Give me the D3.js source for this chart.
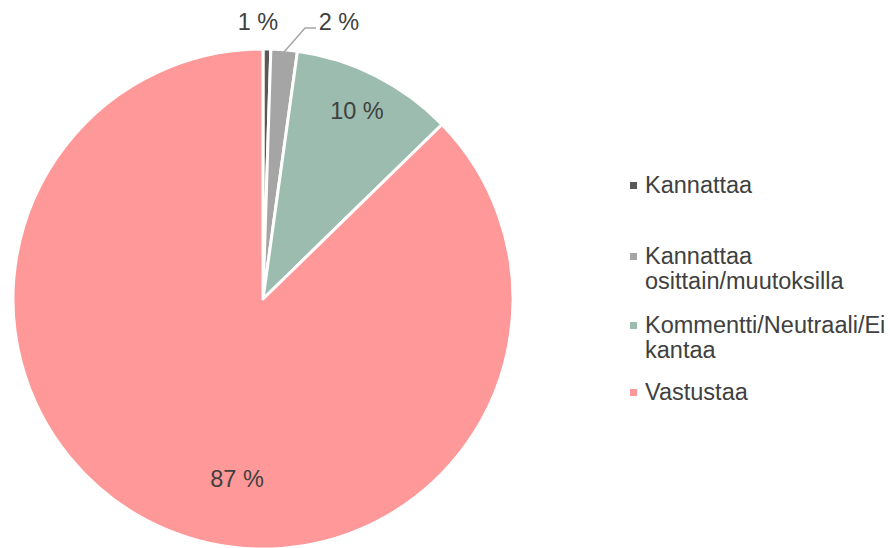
<!DOCTYPE html>
<html>
<head>
<meta charset="utf-8">
<script src="https://cdn.jsdelivr.net/npm/d3@7"></script>
<style>
  body { margin: 0; background: #fff; }
  svg { font-family: "Liberation Sans", Arial, sans-serif; }
</style>
</head>
<body>
<svg id="chart" width="890" height="548"></svg>
<script>
const categories = ["Kannattaa", "Kannattaa osittain/muutoksilla", "Kommentti/Neutraali/Ei kantaa", "Vastustaa"];
const legendLines = [["Kannattaa"], ["Kannattaa", "osittain/muutoksilla"], ["Kommentti/Neutraali/Ei", "kantaa"], ["Vastustaa"]];
const values = [0.5, 1.7, 10.5, 87.3];
const labels = ["1 %", "2 %", "10 %", "87 %"];
const colors = ["#595959", "#a5a5a5", "#9bbcae", "#ff9999"];

const svg = d3.select('#chart');
const cx = 263, cy = 299, radius = 250;

const data = categories.map((c, i) => ({ name: c, value: values[i], label: labels[i], color: colors[i], lines: legendLines[i] }));

const pie = d3.pie().sort(null).value(d => d.value);
const arc = d3.arc().innerRadius(0).outerRadius(radius);
const arcs = pie(data);

const g = svg.append('g').attr('transform', `translate(${cx},${cy})`);

g.selectAll('path')
  .data(arcs)
  .join('path')
  .attr('d', arc)
  .attr('fill', d => d.data.color)
  .attr('stroke', '#fff')
  .attr('stroke-width', 3)
  .attr('stroke-linejoin', 'round');

// label positions as offsets from the centre (data labels were hand-placed in the original)
const labelPos = [[-5, -269], [76, -269], [94, -180], [-26, 188]];

g.selectAll('text.lbl')
  .data(arcs)
  .join('text')
  .attr('class', 'lbl')
  .attr('x', (d, i) => labelPos[i][0])
  .attr('y', (d, i) => labelPos[i][1])
  .attr('text-anchor', 'middle')
  .attr('font-size', 23.5)
  .attr('fill', '#404040')
  .text(d => d.data.label);

// leader line for the 2 % slice
const a2 = arcs[1];
const mid2 = (a2.startAngle + a2.endAngle) / 2;
const r0 = radius - 2;
g.append('polyline')
  .attr('points', [
    [r0 * Math.sin(mid2), -r0 * Math.cos(mid2)],
    [42, -271],
    [53, -271]
  ].map(p => p.join(',')).join(' '))
  .attr('fill', 'none')
  .attr('stroke', '#a5a5a5')
  .attr('stroke-width', 1.5);

// legend
const legendY = [193, 264, 333, 400];
const legend = svg.append('g');
data.forEach((d, i) => {
  const row = legend.append('g').attr('transform', `translate(630,${legendY[i]})`);
  row.append('rect')
    .attr('x', 0).attr('y', -11)
    .attr('width', 7).attr('height', 7)
    .attr('fill', d.color);
  const t = row.append('text')
    .attr('x', 15).attr('y', 0)
    .attr('font-size', 23.5)
    .attr('fill', '#404040');
  d.lines.forEach((ln, j) => {
    t.append('tspan').attr('x', 15).attr('dy', j === 0 ? 0 : 25).text(ln);
  });
});
</script>
</body>
</html>
